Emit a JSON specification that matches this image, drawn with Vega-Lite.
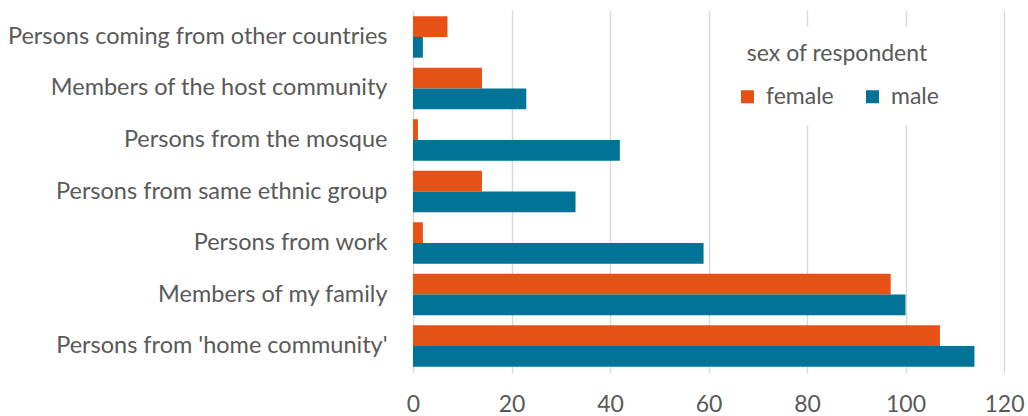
{
  "$schema": "https://vega.github.io/schema/vega-lite/v6.json",
  "width": 1028,
  "height": 416,
  "autosize": {"type": "fit", "contains": "padding"},
  "padding": {"top": 10, "left": 6, "right": 3, "bottom": 0},
  "background": "white",
  "config": {
    "font": "Lato",
    "view": {"stroke": null}
  },
  "data": {
    "values": [
      {"category": "Persons coming from other countries", "sex": "female", "value": 7},
      {"category": "Persons coming from other countries", "sex": "male", "value": 2},
      {"category": "Members of the host community", "sex": "female", "value": 14},
      {"category": "Members of the host community", "sex": "male", "value": 23},
      {"category": "Persons from the mosque", "sex": "female", "value": 1},
      {"category": "Persons from the mosque", "sex": "male", "value": 42},
      {"category": "Persons from same ethnic group", "sex": "female", "value": 14},
      {"category": "Persons from same ethnic group", "sex": "male", "value": 33},
      {"category": "Persons from work", "sex": "female", "value": 2},
      {"category": "Persons from work", "sex": "male", "value": 59},
      {"category": "Members of my family", "sex": "female", "value": 97},
      {"category": "Members of my family", "sex": "male", "value": 100},
      {"category": "Persons from 'home community'", "sex": "female", "value": 107},
      {"category": "Persons from 'home community'", "sex": "male", "value": 114}
    ]
  },
  "mark": {"type": "bar"},
  "encoding": {
    "y": {
      "field": "category",
      "type": "nominal",
      "sort": null,
      "title": null,
      "scale": {"paddingInner": 0.195, "paddingOuter": 0.12},
      "axis": {
        "domain": false,
        "ticks": false,
        "labelFontSize": 23.5,
        "labelColor": "#595959",
        "labelPadding": 26,
        "labelLimit": 500
      }
    },
    "yOffset": {
      "field": "sex",
      "type": "nominal",
      "sort": ["female", "male"]
    },
    "x": {
      "field": "value",
      "type": "quantitative",
      "title": null,
      "scale": {"domain": [0, 120], "nice": false},
      "axis": {
        "values": [0, 20, 40, 60, 80, 100, 120],
        "domain": false,
        "ticks": false,
        "grid": true,
        "gridColor": "#d9d9d9",
        "gridWidth": 1.5,
        "labelFlush": false,
        "labelFontSize": 23,
        "labelColor": "#595959",
        "labelPadding": 20
      }
    },
    "color": {
      "field": "sex",
      "type": "nominal",
      "scale": {"domain": ["female", "male"], "range": ["#E65216", "#007396"]},
      "legend": {
        "title": "sex of respondent",
        "orient": "none",
        "legendX": 307,
        "legendY": 17,
        "direction": "horizontal",
        "fillColor": "white",
        "padding": 16,
        "titleFontSize": 23,
        "titleFontWeight": "normal",
        "titleColor": "#595959",
        "titleAnchor": "middle",
        "titleLimit": 400,
        "titlePadding": 19,
        "labelFontSize": 23,
        "labelColor": "#595959",
        "symbolType": "square",
        "symbolSize": 169,
        "symbolStrokeWidth": 0,
        "columnPadding": 27,
        "labelOffset": 7
      }
    }
  }
}
